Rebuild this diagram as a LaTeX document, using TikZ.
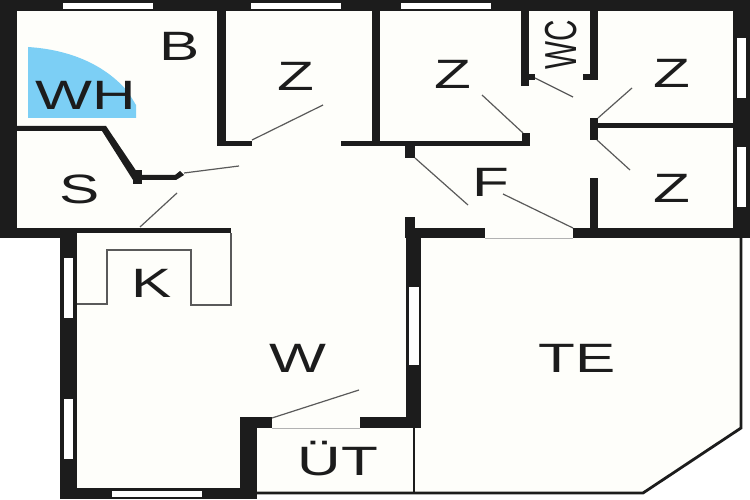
\documentclass[tikz,border=0pt]{standalone}
\usepackage{fontspec}
\setmainfont{Liberation Sans}
\definecolor{wallc}{HTML}{1C1C1C}
\definecolor{floorc}{HTML}{FEFEFA}
\definecolor{doorc}{HTML}{5A5A5A}
\definecolor{tubc}{HTML}{7CCFF5}
\tikzset{
  wall/.style={fill=wallc},
  pane/.style={fill=white},
  thinwall/.style={draw=wallc, line width=2.8pt, line join=miter},
  door/.style={draw=doorc, line width=1.2pt},
  unit/.style={draw=doorc, line width=1.4pt},
  room/.style={font=\fontsize{41}{41}\selectfont, text=wallc, inner sep=0pt, text height=29pt, text depth=0pt, xscale=1.47, transform shape},
  wcroom/.style={font=\fontsize{38}{38}\selectfont, text=wallc, inner sep=0pt, text height=27pt, text depth=0pt, rotate=90, xscale=.78, yscale=1.18, transform shape}
}
\begin{document}
\begin{tikzpicture}[x=1pt,y=-1pt]
\useasboundingbox (0,0) rectangle (750,500);
\fill[white] (0,0) rectangle (750,500);

\fill[floorc] (0,0) -- (750,0) -- (750,238) -- (741,238) -- (741,428) -- (643,493) -- (257,493) -- (257,499) -- (60,499) -- (60,238) -- (0,238) -- cycle;

\fill[tubc] (28,118) -- (28,47) .. controls (75,50) and (108,68) .. (128,92) -- (136,105) -- (136,118) -- cycle;

\fill[wall] (0,0) rectangle (750,11);
\fill[wall] (0,0) rectangle (17,238);
\fill[wall] (733,0) rectangle (750,238);
\fill[wall] (0,228) rectangle (77,238);
\fill[wall] (77,228) rectangle (231,233);
\fill[wall] (60,228) rectangle (77,499);
\fill[wall] (60,488) rectangle (257,499);
\fill[wall] (240,417) rectangle (257,499);
\fill[wall] (240,417) rectangle (272,428);
\fill[wall] (360,417) rectangle (421,428);
\fill[wall] (406,228) rectangle (421,428);
\fill[wall] (405,217) rectangle (415,238);
\fill[wall] (406,228) rectangle (485,238);
\fill[wall] (573,228) rectangle (750,238);
\fill[wall] (217,11) rectangle (226,146);
\fill[wall] (217,141) rectangle (252,146);
\fill[wall] (341,141) rectangle (530,146);
\fill[wall] (372,11) rectangle (380,146);
\fill[wall] (521,11) rectangle (529,86);
\fill[wall] (521,74) rectangle (535,80);
\fill[wall] (590,11) rectangle (598,80);
\fill[wall] (583,74) rectangle (598,80);
\fill[wall] (522,133) rectangle (530,146);
\fill[wall] (590,118) rectangle (598,140);
\fill[wall] (598,123) rectangle (733,128);
\fill[wall] (590,178) rectangle (598,228);
\fill[wall] (405,146) rectangle (415,158);
\fill[wall] (133,170) rectangle (142,184);
\fill[wall] (17,126) -- (106,126) -- (139,175) -- (175,175) -- (180,171) -- (184,175) -- (176,180) -- (133,180) -- (102,131) -- (17,131) -- cycle;

\fill[pane] (63,3) rectangle (153,9);
\fill[pane] (251,3) rectangle (341,9);
\fill[pane] (401,3) rectangle (491,9);
\fill[pane] (737,38) rectangle (746,98);
\fill[pane] (737,147) rectangle (746,207);
\fill[pane] (64,258) rectangle (73,318);
\fill[pane] (64,399) rectangle (73,459);
\fill[pane] (112,491) rectangle (202,497);
\fill[pane] (409,287) rectangle (419,365);

\draw[door] (252,140) -- (323,105);
\draw[door] (184,173) -- (239,166);
\draw[door] (140,227) -- (177,193);
\draw[door] (535,78) -- (573,97);
\draw[door] (523,133) -- (482,95);
\draw[door] (598,118) -- (632,88);
\draw[door] (597,140) -- (630,170);
\draw[door] (415,158) -- (468,205);
\draw[door] (503,194) -- (573,228);
\draw[door] (272,418) -- (359,390);
\draw[door, line width=.5pt, draw=gray!60] (485,238.5) -- (573,238.5);
\draw[door, line width=.5pt, draw=gray!60] (272,428) -- (360,428);

\draw[unit] (231,233) -- (231,305) -- (191,305) -- (191,250) -- (107,250) -- (107,304) -- (77,304);

\draw[thinwall] (741,238) -- (741,428) -- (643,493) -- (257,493);
\draw[thinwall] (414,428) -- (414,493);

\node[room] (bad) at (180,46) {B};
\node[room] (wh) at (86,95) {WH};
\node[room] (zimmera) at (296,76) {Z};
\node[room] (zimmerb) at (453,74) {Z};
\node[room] (zimmerc) at (672,73) {Z};
\node[room] (zimmerd) at (672,188) {Z};
\node[room] (sp) at (80,189) {S};
\node[room] (flur) at (491,182) {F};
\node[room] (kueche) at (152,283) {K};
\node[room] (wohnen) at (298,358) {W};
\node[room] (terrasse) at (577,358) {TE};
\node[room] (uet) at (338,461) {ÜT};
\node[wcroom] (wc) at (561,45) {WC};
\end{tikzpicture}
\end{document}
